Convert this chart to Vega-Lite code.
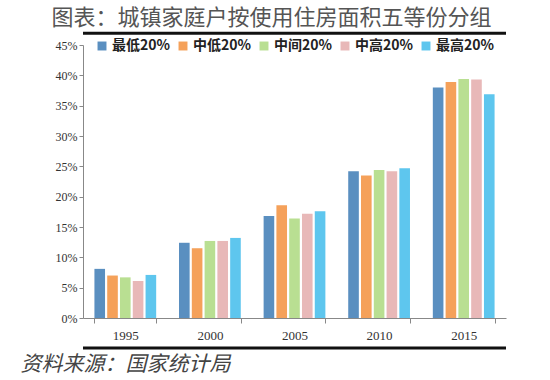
{
  "$schema": "https://vega.github.io/schema/vega-lite/v6.json",
  "width": 423,
  "height": 273,
  "padding": {"left": 20, "top": 6, "right": 5, "bottom": 5},
  "background": "white",
  "title": {
    "text": "图表：城镇家庭户按使用住房面积五等份分组",
    "font": "Noto Sans CJK SC",
    "fontSize": 22,
    "fontWeight": "normal",
    "color": "#555555",
    "anchor": "middle",
    "frame": "group",
    "dx": -23,
    "offset": 2
  },
  "data": {
    "values": [
      {"year": "1995", "group": "最低20%", "value": 0.081},
      {"year": "1995", "group": "中低20%", "value": 0.070},
      {"year": "1995", "group": "中间20%", "value": 0.067},
      {"year": "1995", "group": "中高20%", "value": 0.061},
      {"year": "1995", "group": "最高20%", "value": 0.071},
      {"year": "2000", "group": "最低20%", "value": 0.124},
      {"year": "2000", "group": "中低20%", "value": 0.115},
      {"year": "2000", "group": "中间20%", "value": 0.127},
      {"year": "2000", "group": "中高20%", "value": 0.127},
      {"year": "2000", "group": "最高20%", "value": 0.132},
      {"year": "2005", "group": "最低20%", "value": 0.168},
      {"year": "2005", "group": "中低20%", "value": 0.186},
      {"year": "2005", "group": "中间20%", "value": 0.164},
      {"year": "2005", "group": "中高20%", "value": 0.172},
      {"year": "2005", "group": "最高20%", "value": 0.176},
      {"year": "2010", "group": "最低20%", "value": 0.242},
      {"year": "2010", "group": "中低20%", "value": 0.235},
      {"year": "2010", "group": "中间20%", "value": 0.244},
      {"year": "2010", "group": "中高20%", "value": 0.242},
      {"year": "2010", "group": "最高20%", "value": 0.247},
      {"year": "2015", "group": "最低20%", "value": 0.380},
      {"year": "2015", "group": "中低20%", "value": 0.389},
      {"year": "2015", "group": "中间20%", "value": 0.394},
      {"year": "2015", "group": "中高20%", "value": 0.393},
      {"year": "2015", "group": "最高20%", "value": 0.369}
    ]
  },
  "layer": [
    {
      "mark": {"type": "bar"},
      "encoding": {
        "x": {
          "field": "year",
          "type": "nominal",
          "scale": {"paddingInner": 0.27, "paddingOuter": 0.135},
          "axis": {
            "labelAngle": 0,
            "labelFont": "Liberation Serif",
            "labelFontSize": 13,
            "labelColor": "#333333",
            "labelPadding": 6,
            "domainColor": "#888888",
            "tickColor": "#888888",
            "tickBand": "extent",
            "tickSize": 5,
            "title": "资料来源：国家统计局",
            "titleFont": "Noto Sans CJK SC",
            "titleFontSize": 21,
            "titleFontWeight": "normal",
            "titleFontStyle": "italic",
            "titleColor": "#444444",
            "titleAnchor": "start",
            "titleAlign": "left",
            "titleBaseline": "middle",
            "titleX": -63,
            "titleY": 46
          }
        },
        "xOffset": {
          "field": "group",
          "type": "nominal",
          "sort": ["最低20%", "中低20%", "中间20%", "中高20%", "最高20%"],
          "scale": {"paddingInner": 0.17}
        },
        "y": {
          "field": "value",
          "type": "quantitative",
          "scale": {"domain": [0, 0.45]},
          "axis": {
            "format": ".0%",
            "values": [0, 0.05, 0.1, 0.15, 0.2, 0.25, 0.3, 0.35, 0.4, 0.45],
            "labelOverlap": false,
            "grid": false,
            "labelFont": "Liberation Serif",
            "labelFontSize": 12,
            "labelColor": "#333333",
            "domainColor": "#888888",
            "tickColor": "#888888",
            "tickSize": 4,
            "labelPadding": 2,
            "title": null
          }
        },
        "color": {
          "field": "group",
          "type": "nominal",
          "sort": ["最低20%", "中低20%", "中间20%", "中高20%", "最高20%"],
          "scale": {
            "domain": ["最低20%", "中低20%", "中间20%", "中高20%", "最高20%"],
            "range": ["#5a8fc0", "#f5a15a", "#b9df92", "#e8b8b8", "#5ec6ee"]
          },
          "legend": {
            "title": null,
            "orient": "none",
            "direction": "horizontal",
            "legendX": 12,
            "legendY": -6,
            "symbolType": "square",
            "symbolSize": 80,
            "symbolStrokeWidth": 0,
            "labelFont": "Noto Sans CJK SC",
            "labelFontSize": 14,
            "labelFontWeight": "bold",
            "labelColor": "#222222",
            "columnPadding": 5,
            "labelOffset": 3
          }
        }
      }
    },
    {
      "mark": {"type": "rule", "color": "#111111", "strokeWidth": 3, "clip": false},
      "data": {"values": [{"pos": 0.4695}, {"pos": -0.0494}]},
      "encoding": {
        "y": {
          "field": "pos",
          "type": "quantitative",
          "axis": {
            "format": ".0%",
            "values": [0, 0.05, 0.1, 0.15, 0.2, 0.25, 0.3, 0.35, 0.4, 0.45],
            "labelOverlap": false,
            "grid": false,
            "labelFont": "Liberation Serif",
            "labelFontSize": 12,
            "labelColor": "#333333",
            "domainColor": "#888888",
            "tickColor": "#888888",
            "tickSize": 4,
            "labelPadding": 2,
            "title": null
          }
        }
      }
    }
  ],
  "config": {
    "view": {"stroke": null}
  }
}
